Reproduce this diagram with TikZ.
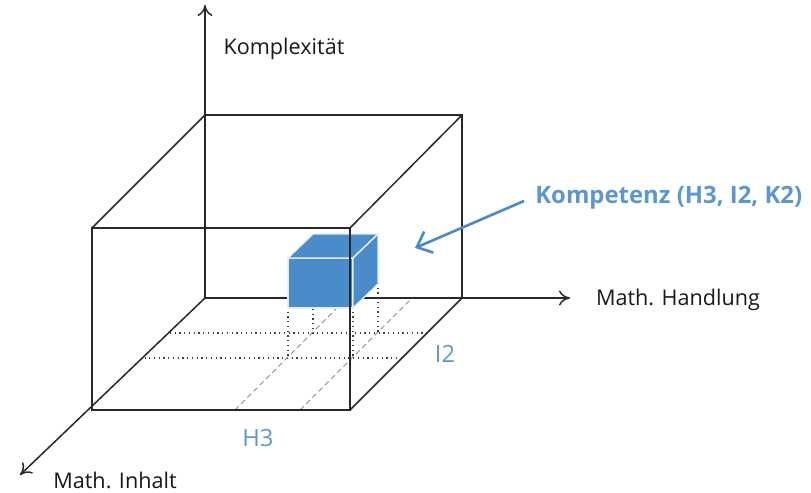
\documentclass[tikz,border=0pt]{standalone}
\usepackage{fontspec}
\setmainfont{Open Sans}
\usetikzlibrary{arrows.meta}

\definecolor{kblue}{RGB}{74,139,201}
\definecolor{kline}{RGB}{40,40,40}

\begin{document}
\begin{tikzpicture}[
    x=0.02cm, y=-0.02cm,
    font=\fontsize{12.3}{14}\selectfont,
    edge/.style={draw=kline, line width=0.85pt},
    axis/.style={edge, -{To[length=2.2mm, width=3mm]}},
    gridline/.style={draw=black!75, dotted, line width=0.7pt},
    depthline/.style={draw=black!45, densely dashed, line width=0.5pt},
    cubeface/.style={fill=kblue, draw=white!85!kblue, line width=0.8pt, line join=round},
    axislabel/.style={text=black!90},
    dimlabel/.style={text=kblue!90!white, font=\fontsize{13.5}{15}\selectfont},
    pointer/.style={draw=kblue, line width=1.5pt, -{Straight Barb[length=2.6mm, width=4.6mm]}},
  ]
\useasboundingbox (0,0) rectangle (811,493);

% ---- corners of the box ----------------------------------------------
\coordinate (O)   at (205,298);   % back bottom left = origin
\coordinate (BTL) at (205,115);
\coordinate (BTR) at (462,115);
\coordinate (BBR) at (462,298);
\coordinate (FBL) at (92,410);
\coordinate (FBR) at (350,410);
\coordinate (FTR) at (350,228);
\coordinate (FTL) at (92,228);

% ---- axis ends ----------------------------------------------------------
\coordinate (zTip) at (205,5);
\coordinate (xTip) at (570,298);
\coordinate (yTip) at (20,475);

% ---- back edges and axes ---------------------------------------------
\draw[axis] (O) -- (zTip);
\draw[axis] (O) -- (xTip);
\draw[axis] (O) -- (yTip);
\draw[edge] (BTL) -- (BTR) -- (BBR);

% ---- projection grid on the floor ------------------------------------
\draw[gridline] (170,333) -- (427,333);
\draw[gridline] (144.5,358) -- (401.5,358);
\draw[depthline] (235,410) -- (347,298);
\draw[depthline] (300,410) -- (412,298);
\draw[gridline] (288,307) -- (288,358);
\draw[gridline] (313,290) -- (313,333);
\draw[gridline] (353,307) -- (353,358);
\draw[gridline] (378,283) -- (378,333);

% ---- competence cube ---------------------------------------------------
\filldraw[cubeface] (288,258) -- (353,258) -- (353,308) -- (288,308) -- cycle;
\filldraw[cubeface] (288,258) -- (313,234) -- (378,234) -- (353,258) -- cycle;
\filldraw[cubeface] (353,258) -- (378,234) -- (378,284) -- (353,308) -- cycle;

% ---- front edges -------------------------------------------------------
\draw[edge] (FTL) -- (FTR) -- (FBR) -- (FBL) -- cycle;
\draw[edge] (FTL) -- (BTL);
\draw[edge] (FTR) -- (BTR);
\draw[edge] (FBR) -- (BBR);

% ---- labels --------------------------------------------------------------
\node[axislabel] (komplex)  at (284,49)  {Komplexität};
\node[axislabel] (handlung) at (678,300) {Math. Handlung};
\node[axislabel] (inhalt)   at (115,480) {Math. Inhalt};
\node[dimlabel] (hthree) at (258,438) {H3};
\node[dimlabel] (itwo)   at (445,354) {I2};
\node[text=kblue!90!white, font=\fontsize{13.6}{16}\selectfont\bfseries, anchor=west, inner sep=0pt]
      (kompetenz) at (535,198) {Kompetenz (H3, I2, K2)};

% ---- pointer to the cube ----------------------------------------------
\coordinate (cubeTip) at (415,248);
\draw[pointer] (kompetenz.west) ++(-11,3) -- (cubeTip);

\end{tikzpicture}
\end{document}
